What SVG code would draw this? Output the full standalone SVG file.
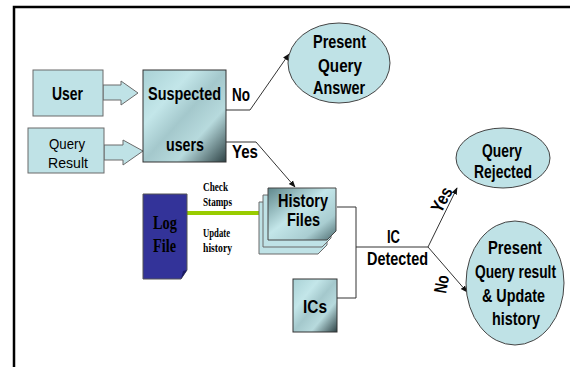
<svg xmlns="http://www.w3.org/2000/svg" width="570" height="367" viewBox="0 0 570 367">
  <style>
    .box { fill: #bfe2e6; stroke: #6b6b6b; stroke-width: 1; }
    .oval { fill: #bfe2e6; stroke: #444; stroke-width: 1; }
    .lbl { font-family: "Liberation Sans", Arial, sans-serif; font-weight: bold; font-size: 18px; fill: #000; }
    .reg { font-family: "Liberation Sans", Arial, sans-serif; font-size: 15px; fill: #000; }
    .ser { font-family: "Liberation Serif", "Times New Roman", serif; font-weight: bold; fill: #000; }
    .wire { fill: none; stroke: #333; stroke-width: 1; }
  </style>
  <defs>
    <linearGradient id="shade" x1="0" y1="0" x2="1" y2="1">
      <stop offset="0" stop-color="#a9d1d5"/>
      <stop offset="0.3" stop-color="#c3e6e9"/>
      <stop offset="0.5" stop-color="#a4c8cc"/>
      <stop offset="0.7" stop-color="#b7dadd"/>
      <stop offset="1" stop-color="#2e4245"/>
    </linearGradient>
    <linearGradient id="shadeFront" x1="0" y1="0" x2="1" y2="1">
      <stop offset="0" stop-color="#5f878b"/>
      <stop offset="0.45" stop-color="#c3e6e9"/>
      <stop offset="0.75" stop-color="#a9cdd1"/>
      <stop offset="1" stop-color="#4d6c70"/>
    </linearGradient>
    <marker id="arr" viewBox="0 0 10 10" refX="9" refY="5" markerWidth="7" markerHeight="7" orient="auto" markerUnits="userSpaceOnUse">
      <path d="M0,1 L10,5 L0,9 Z" fill="#111"/>
    </marker>
    <path id="sheet" d="M0,0 H68 V43 L59,52 H0 Z"/>
  </defs>

  <!-- frame -->
  <path d="M14,367 V7 H570" fill="none" stroke="#000" stroke-width="2.5"/>

  <!-- connectors -->
  <g id="connectors">
    <path class="box" d="M103,85 H121 V81 L138,93 L121,105 V100 H103 Z"/>
    <path class="box" d="M104,145 H123 V140 L143,151 L123,165 V160 H104 Z"/>
    <polyline class="wire" points="226,110 250,110 289,54" marker-end="url(#arr)"/>
    <polyline class="wire" points="226,142 256,142 295,187" marker-end="url(#arr)"/>
    <line x1="187" y1="213" x2="259" y2="213" stroke="#99cc00" stroke-width="4"/>
    <polyline class="wire" points="337,207 356,207 356,298 337,298"/>
    <line class="wire" x1="356" y1="247" x2="428" y2="247"/>
    <line class="wire" x1="428" y1="247" x2="457" y2="188" marker-end="url(#arr)"/>
    <line class="wire" x1="428" y1="247" x2="467" y2="292" marker-end="url(#arr)"/>
    <text class="lbl" x="232" y="101" textLength="18" lengthAdjust="spacingAndGlyphs">No</text>
    <text class="lbl" x="232" y="158" textLength="26" lengthAdjust="spacingAndGlyphs">Yes</text>
    <text class="ser" font-size="12" x="203" y="191" textLength="25" lengthAdjust="spacingAndGlyphs">Check</text>
    <text class="ser" font-size="12" x="203" y="206" textLength="29" lengthAdjust="spacingAndGlyphs">Stamps</text>
    <text class="ser" font-size="12" x="203" y="237" textLength="27" lengthAdjust="spacingAndGlyphs">Update</text>
    <text class="ser" font-size="12" x="203" y="252" textLength="29" lengthAdjust="spacingAndGlyphs">history</text>
    <text class="lbl" x="387" y="243" textLength="13" lengthAdjust="spacingAndGlyphs">IC</text>
    <text class="lbl" x="367" y="265" textLength="61" lengthAdjust="spacingAndGlyphs">Detected</text>
    <text class="lbl" transform="translate(441,214) rotate(-62)" x="0" y="0" textLength="26" lengthAdjust="spacingAndGlyphs">Yes</text>
    <text class="lbl" transform="translate(446,294) rotate(-80)" x="0" y="0" textLength="18" lengthAdjust="spacingAndGlyphs">No</text>
  </g>

  <g id="user">
    <rect class="box" x="33" y="70" width="70" height="46"/>
    <text class="lbl" x="52" y="100" textLength="31" lengthAdjust="spacingAndGlyphs">User</text>
  </g>

  <g id="query-result">
    <rect class="box" x="28" y="128" width="76" height="45"/>
    <text class="reg" x="49" y="149" textLength="36" lengthAdjust="spacingAndGlyphs">Query</text>
    <text class="reg" x="48" y="168" textLength="40" lengthAdjust="spacingAndGlyphs">Result</text>
  </g>

  <g id="suspected-users">
    <rect x="143" y="70" width="83" height="92" fill="url(#shade)" stroke="#333" stroke-width="1"/>
    <text class="lbl" font-size="16" x="148" y="100" textLength="73" lengthAdjust="spacingAndGlyphs">Suspected</text>
    <text class="lbl" x="166" y="151" textLength="38" lengthAdjust="spacingAndGlyphs">users</text>
  </g>

  <g id="present-query-answer">
    <ellipse class="oval" cx="339" cy="63" rx="51" ry="40"/>
    <text class="lbl" x="313" y="48" textLength="53" lengthAdjust="spacingAndGlyphs">Present</text>
    <text class="lbl" x="318" y="72" textLength="44" lengthAdjust="spacingAndGlyphs">Query</text>
    <text class="lbl" x="313" y="94" textLength="52" lengthAdjust="spacingAndGlyphs">Answer</text>
  </g>

  <g id="query-rejected">
    <ellipse class="oval" cx="503" cy="158" rx="47" ry="30"/>
    <text class="lbl" x="482" y="157" textLength="40" lengthAdjust="spacingAndGlyphs">Query</text>
    <text class="lbl" x="474" y="178" textLength="58" lengthAdjust="spacingAndGlyphs">Rejected</text>
  </g>

  <g id="present-query-result">
    <ellipse class="oval" cx="515" cy="283" rx="49" ry="62"/>
    <text class="lbl" x="488" y="254" textLength="54" lengthAdjust="spacingAndGlyphs">Present</text>
    <text class="lbl" font-size="16" x="475" y="278" textLength="81" lengthAdjust="spacingAndGlyphs">Query result</text>
    <text class="lbl" x="482" y="302" textLength="63" lengthAdjust="spacingAndGlyphs">&amp; Update</text>
    <text class="lbl" x="492" y="325" textLength="48" lengthAdjust="spacingAndGlyphs">history</text>
  </g>

  <g id="log-file">
    <path d="M143,194 H187 V270 L181,279 H143 Z" fill="#333399" stroke="#555" stroke-width="1"/>
    <path d="M187,270 L181,279 L183,271 Z" fill="#1a1a66"/>
    <text class="ser" font-size="19" x="153" y="229" textLength="24" lengthAdjust="spacingAndGlyphs">Log</text>
    <text class="ser" font-size="19" x="153" y="252" textLength="23" lengthAdjust="spacingAndGlyphs">File</text>
  </g>

  <g id="history-files">
    <use href="#sheet" transform="translate(259,202)" fill="#bfe2e6" stroke="#6b6b6b"/>
    <use href="#sheet" transform="translate(263,195)" fill="#bfe2e6" stroke="#6b6b6b"/>
    <use href="#sheet" transform="translate(268,188)" fill="url(#shadeFront)" stroke="#444"/>
    <text class="lbl" x="278" y="207" textLength="50" lengthAdjust="spacingAndGlyphs">History</text>
    <text class="lbl" x="287" y="226" textLength="33" lengthAdjust="spacingAndGlyphs">Files</text>
  </g>

  <g id="ics">
    <rect x="293" y="279" width="44" height="53" fill="url(#shade)" stroke="#333" stroke-width="1"/>
    <text class="lbl" x="303" y="313" textLength="24" lengthAdjust="spacingAndGlyphs">ICs</text>
  </g>
</svg>
